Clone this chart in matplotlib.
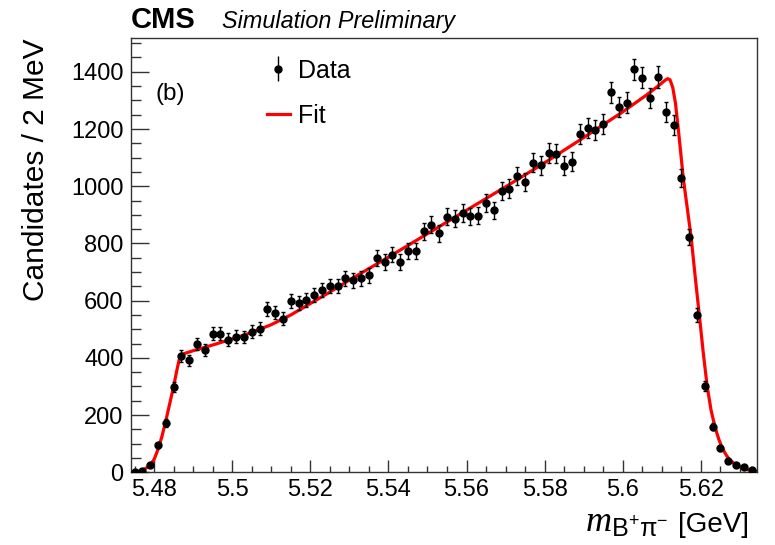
import numpy as np
import matplotlib
matplotlib.use("Agg")
import matplotlib.pyplot as plt
from matplotlib.ticker import MultipleLocator, FormatStrFormatter

plt.rcParams['font.family'] = ['Liberation Sans', 'DejaVu Sans']
plt.rcParams['mathtext.fontset'] = 'custom'
plt.rcParams['mathtext.rm'] = 'Liberation Sans'
plt.rcParams['mathtext.it'] = 'Liberation Serif:italic'

# histogram: 2 MeV bins from 5.474 to 5.634 GeV
bin_lo = 5.474
bin_w = 0.002
counts = [2, 4, 26, 94, 172, 298, 406, 391, 449, 428,
          485, 485, 464, 474, 473, 491, 502, 572, 558, 537,
          600, 591, 602, 619, 637, 651, 651, 678, 671, 678,
          689, 750, 735, 761, 735, 773, 773, 842, 866, 835,
          893, 886, 906, 895, 897, 942, 916, 982, 992, 1035,
          1015, 1082, 1073, 1116, 1113, 1072, 1086, 1183, 1205, 1196,
          1218, 1329, 1277, 1292, 1408, 1380, 1308, 1382, 1260, 1214,
          1028, 823, 550, 302, 159, 84, 39, 25, 17, 7]

# fit curve
fit_x = [5.4740, 5.4760, 5.4775, 5.4790, 5.4800, 5.4810, 5.4820, 5.4830,
         5.4840, 5.4850, 5.4858, 5.4864, 5.4868, 5.4875, 5.4900, 5.4950,
         5.5000, 5.5050, 5.5100, 5.5150, 5.5200, 5.5250, 5.5300, 5.5400,
         5.5500, 5.5600, 5.5700, 5.5800, 5.5900, 5.6000, 5.6060, 5.6095,
         5.6108, 5.6115, 5.6121, 5.6128, 5.6135, 5.6143, 5.6155, 5.6165,
         5.6175, 5.6185, 5.6196, 5.6206, 5.6216, 5.6226, 5.6236, 5.6246,
         5.6255, 5.6265, 5.6275, 5.6290, 5.6305, 5.6320, 5.6340]
fit_y = [0, 3, 10, 25, 45, 80, 125, 180,
         240, 300, 355, 392, 408, 414, 425, 445,
         466, 489, 516, 550, 590, 630, 672, 752,
         834, 916, 998, 1082, 1170, 1260, 1318, 1355,
         1370, 1376, 1372, 1345, 1290, 1190, 1028, 925,
         823, 690, 550, 420, 302, 218, 159, 115,
         84, 60, 42, 26, 16, 9, 4]

counts = np.array(counts, dtype=float)
centers = bin_lo + bin_w * (np.arange(len(counts)) + 0.5)
errors = np.sqrt(counts)

fig = plt.figure(figsize=(7.75, 5.45), dpi=100)
ax = fig.add_axes([0.1686, 0.1334, 0.8078, 0.7963])

ax.plot(fit_x, fit_y, color='#ff0000', lw=2.3, zorder=2)
ax.errorbar(centers, counts, yerr=errors, fmt='o', color='black', ms=5,
            elinewidth=1.0, capsize=1.5, capthick=1.0, zorder=3)

ax.set_xlim(5.474, 5.6343)
ax.set_ylim(0, 1517)
ax.xaxis.set_major_locator(MultipleLocator(0.02))
ax.xaxis.set_minor_locator(MultipleLocator(0.005))
ax.xaxis.set_major_formatter(FormatStrFormatter('%g'))
ax.yaxis.set_major_locator(MultipleLocator(200))
ax.yaxis.set_minor_locator(MultipleLocator(50))
ax.tick_params(which='both', direction='in', top=False, right=False,
               labelsize=17, color='#333333', width=1.0, pad=5)
ax.tick_params(axis='x', which='major', length=8.6)
ax.tick_params(axis='x', which='minor', length=4.3)
ax.tick_params(axis='y', which='major', length=13)
ax.tick_params(axis='y', which='minor', length=7)
for s in ax.spines.values():
    s.set_linewidth(1.0)
    s.set_color('#333333')

# legend
data_proxy = ax.errorbar([np.nan], [np.nan], yerr=[1], fmt='o', color='black',
                         ms=5, elinewidth=1.0, capsize=0)
fit_proxy, = ax.plot([], [], color='#ff0000', lw=2.3)
ax.legend([data_proxy, fit_proxy], ['Data', 'Fit'], loc='upper left',
          bbox_to_anchor=(0.218, 0.953), frameon=False, fontsize=18,
          handlelength=0.9, handletextpad=0.35, labelspacing=0.85,
          borderpad=0, borderaxespad=0)

ax.text(0.039, 0.872, '(b)', transform=ax.transAxes, fontsize=17.5,
        ha='left', va='center')

fig.text(0.169, 0.949, 'CMS', fontsize=21, fontweight='bold',
         ha='left', va='baseline')
fig.text(0.287, 0.949, 'Simulation Preliminary', fontsize=16.8,
         style='italic', ha='left', va='baseline')

fig.text(0.047, 0.93, 'Candidates / 2 MeV', rotation=90, fontsize=21.5,
         ha='center', va='top')

# x title: unit part right-aligned at the axis end, mass symbol before it
unit = fig.text(0.966, 0.024, '[GeV]', fontsize=20, ha='right', va='baseline')
fig.canvas.draw()
ub = unit.get_window_extent().transformed(fig.transFigure.inverted())
fig.text(ub.x0 - 0.012, 0.024, r'$m_{\mathrm{B^{+}\pi^{-}}}$',
         fontsize=26, ha='right', va='baseline')

fig.savefig('out.png', dpi=100)
